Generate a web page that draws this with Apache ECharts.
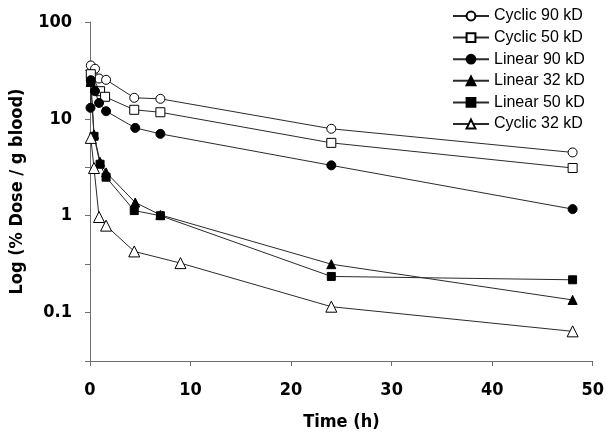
<!DOCTYPE html>
<html>
<head>
<meta charset="utf-8">
<script src="https://cdn.jsdelivr.net/npm/echarts@6/dist/echarts.min.js"></script>
<style>
html,body{margin:0;padding:0;background:#fff;}
#c{width:607px;height:439px;}
</style>
</head>
<body>
<div id="c"></div>
<script>
// ---- data (time in h, value in % dose / g blood) ----
const seriesNames = ['Cyclic 90 kD','Cyclic 50 kD','Linear 90 kD','Linear 32 kD','Linear 50 kD','Cyclic 32 kD'];

const cyclic90T = [0.08, 0.5, 0.9, 1.6, 4.4, 7, 24, 48];
const cyclic90V = [35.6, 32.9, 26.1, 25.3, 16.5, 16.1, 7.9, 4.5];

const cyclic50T = [0.08, 1, 1.5, 4.4, 7, 24, 48];
const cyclic50V = [28.9, 19.3, 16.9, 12.4, 11.7, 5.65, 3.11];

const linear90T = [0.05, 0.08, 0.5, 0.9, 1.6, 4.5, 7, 24, 48];
const linear90V = [13.0, 25.1, 19.3, 14.6, 12.0, 8.07, 7.0, 3.31, 1.17];

const linear32T = [0.08, 0.4, 1, 1.6, 4.5, 7, 24, 48];
const linear32V = [24, 6.9, 3.6, 2.8, 1.37, 1.02, 0.316, 0.135];

const linear50T = [0.08, 0.4, 1, 1.6, 4.4, 7, 24, 48];
const linear50V = [24, 6.6, 3.4, 2.5, 1.13, 1.0, 0.236, 0.218];

const cyclic32T = [0.08, 0.4, 0.9, 1.6, 4.4, 9, 24, 48];
const cyclic32V = [6.36, 3.11, 0.97, 0.79, 0.428, 0.324, 0.115, 0.064];

const xTicks = [0, 10, 20, 30, 40, 50];
const yTickLabels = ['0.1', '1', '10', '100'];

// ---- styles ----
const narrow = "'Liberation Sans Narrow','Arial Narrow','DejaVu Sans Condensed',sans-serif";
const axisColor = '#6e6e6e';
const lineColor = '#2a2a2a';

function pairs(t, v) { return t.map((x, i) => [x, v[i]]); }

function mk(name, t, v, symbol, size, filled) {
  return {
    name: name,
    type: 'line',
    data: pairs(t, v),
    symbol: symbol,
    symbolSize: size,
    showAllSymbol: true,
    lineStyle: { color: lineColor, width: 1 },
    itemStyle: { color: filled ? '#000' : '#fff', borderColor: '#000', borderWidth: 1 },
    emphasis: { disabled: true },
    animation: false
  };
}

const chart = echarts.init(document.getElementById('c'), null, { renderer: 'canvas' });
chart.setOption({
  backgroundColor: '#fff',
  animation: false,
  grid: { left: 86, right: 13, top: 22, bottom: 78 },
  legend: {
    orient: 'vertical',
    left: 447,
    top: 3,
    itemWidth: 36,
    itemHeight: 11,
    itemGap: 5.6,
    textStyle: { fontFamily: "'Liberation Sans',Arial,sans-serif", fontSize: 16, color: '#000' },
    data: seriesNames
  },
  xAxis: {
    type: 'value',
    min: xTicks[0],
    max: xTicks[xTicks.length - 1],
    interval: 10,
    name: 'Time (h)',
    nameLocation: 'middle',
    nameGap: 52,
    nameTextStyle: { fontFamily: narrow, fontWeight: 'bold', fontSize: 18, color: '#000' },
    axisLine: { lineStyle: { color: axisColor, width: 1 } },
    axisTick: { length: 5, lineStyle: { color: axisColor } },
    axisLabel: { margin: 20, fontFamily: narrow, fontWeight: 'bold', fontSize: 18, color: '#000' },
    splitLine: { show: false }
  },
  yAxis: {
    type: 'log',
    logBase: 10,
    min: Math.pow(10, -1.5),
    max: 100,
    interval: 0.5,
    name: 'Log (% Dose / g blood)',
    nameLocation: 'middle',
    nameGap: 64,
    nameRotate: 90,
    nameTextStyle: { fontFamily: narrow, fontWeight: 'bold', fontSize: 18, color: '#000' },
    axisLine: { show: true, lineStyle: { color: axisColor, width: 1 } },
    axisTick: { show: true, length: 5, lineStyle: { color: axisColor } },
    axisLabel: {
      margin: 18,
      fontFamily: narrow, fontWeight: 'bold', fontSize: 18, color: '#000',
      formatter: function (val) {
        const e = Math.log10(val);
        const r = Math.round(e);
        if (Math.abs(e - r) > 1e-6) return '';
        const idx = r + 1;
        return yTickLabels[idx] !== undefined ? yTickLabels[idx] : '';
      }
    },
    splitLine: { show: false }
  },
  series: [
    mk(seriesNames[0], cyclic90T, cyclic90V, 'circle', 9, false),
    mk(seriesNames[1], cyclic50T, cyclic50V, 'rect', 9, false),
    mk(seriesNames[2], linear90T, linear90V, 'circle', 9, true),
    mk(seriesNames[3], linear32T, linear32V, 'triangle', 9, true),
    mk(seriesNames[4], linear50T, linear50V, 'rect', 8, true),
    mk(seriesNames[5], cyclic32T, cyclic32V, 'triangle', 11, false)
  ]
});
</script>
</body>
</html>
